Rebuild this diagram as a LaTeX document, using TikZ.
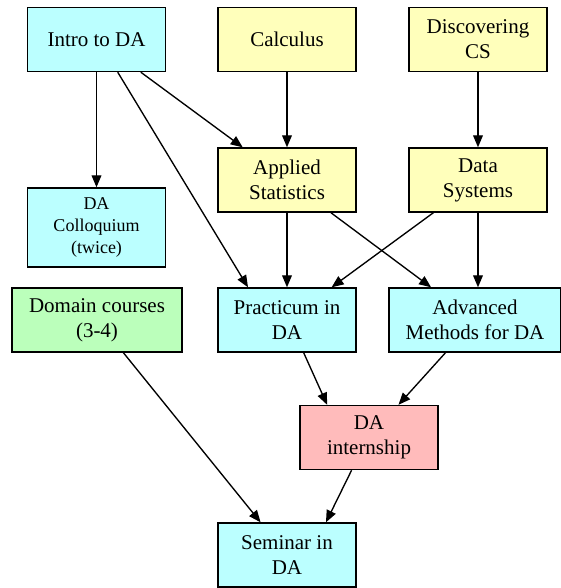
\documentclass[tikz,border=0pt]{standalone}
\usepackage{fontspec}
\setmainfont{Liberation Serif}
\usepackage{tikz}
\usetikzlibrary{arrows.meta}

\definecolor{cyanbox}{HTML}{BBFFFF}
\definecolor{yellowbox}{HTML}{FFFFBB}
\definecolor{greenbox}{HTML}{BBFFBB}
\definecolor{redbox}{HTML}{FFBBBB}

\begin{document}
\begin{tikzpicture}[x=0.6667pt, y=-0.6667pt,
    course/.style={shape=rectangle, draw=black, line width=0.9pt, align=center,
        inner sep=0pt, minimum width=92pt, minimum height=42.7pt,
        font=\fontsize{14}{16.8}\selectfont},
    prereq/.style={line width=0.9pt, -{Triangle[length=8pt, width=6.5pt]}}]
    \useasboundingbox (0,0) rectangle (561,588);
    \node[course, fill=cyanbox] (Intro) at (96.5, 39.5) {Intro to DA};
    \node[course, fill=yellowbox] (Calc) at (287, 39.5) {Calculus};
    \node[course, fill=yellowbox] (Disc) at (478, 39.5) {Discovering\\CS};
    \node[course, fill=yellowbox] (Stats) at (287, 180) {Applied\\Statistics};
    \node[course, fill=yellowbox] (DataSys) at (478, 180) {Data\\Systems};
    \node[course, fill=cyanbox, minimum height=52.7pt,
        font=\fontsize{12}{14.5}\selectfont] (Colloq) at (96.5, 227.5) {DA\\Colloquium\\(twice)};
    \node[course, fill=greenbox, minimum width=113.3pt] (Domain) at (97, 320) {Domain courses\\(3-4)};
    \node[course, fill=cyanbox] (Prac) at (287, 320) {Practicum in\\DA};
    \node[course, fill=cyanbox, minimum width=114.7pt] (Adv) at (475, 320) {Advanced\\Methods for DA};
    \node[course, fill=redbox] (Intern) at (369, 437.5) {DA\\internship};
    \node[course, fill=cyanbox] (Sem) at (287, 555) {Seminar in\\DA};

    \draw[prereq] (Intro) -- (Colloq);
    \draw[prereq] (Intro) -- (Stats);
    \draw[prereq] (Intro.-57) -- (Prac.140);
    \draw[prereq] (Calc) -- (Stats);
    \draw[prereq] (Disc) -- (DataSys);
    \draw[prereq] (Stats) -- (Prac);
    \draw[prereq] (Stats) -- (Adv);
    \draw[prereq] (DataSys) -- (Prac);
    \draw[prereq] (DataSys) -- (DataSys |- Adv.north);
    \draw[prereq] (Prac.-63) -- (Intern.142);
    \draw[prereq] (Adv) -- (Intern);
    \draw[prereq] (Domain) -- (Sem);
    \draw[prereq] (Intern.-118) -- (Sem.40);
\end{tikzpicture}
\end{document}
